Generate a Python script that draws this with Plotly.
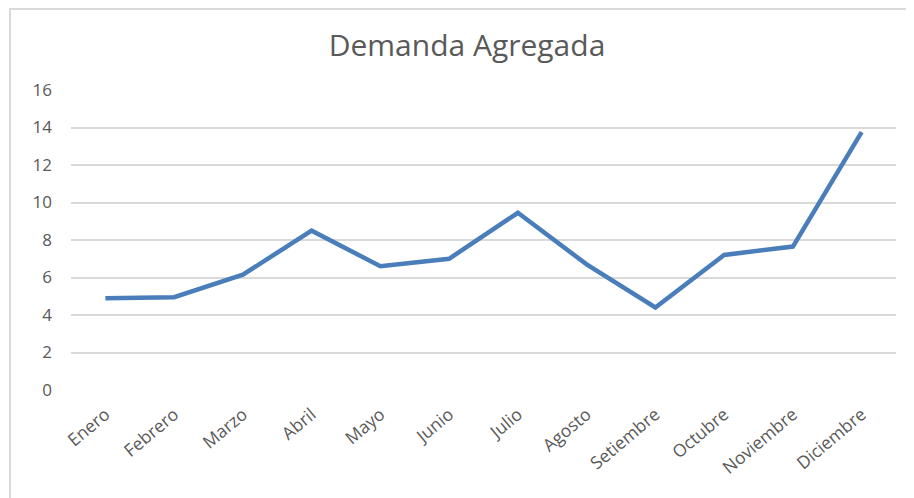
import plotly.graph_objects as go

meses = ["Enero", "Febrero", "Marzo", "Abril", "Mayo", "Junio", "Julio",
         "Agosto", "Setiembre", "Octubre", "Noviembre", "Diciembre"]
demanda = [4.9, 4.95, 6.15, 8.5, 6.6, 7.0, 9.45, 6.7, 4.4, 7.2, 7.65, 13.75]
y_ticks = [0, 2, 4, 6, 8, 10, 12, 14, 16]

W, H = 914, 498
OFF = 8  # page body offset
L, R, T, B = 71 - OFF, 18 + OFF, 90 - OFF, 108 + OFF

fig = go.Figure()
fig.add_trace(go.Scatter(
    x=meses, y=demanda, mode="lines",
    line=dict(color="#4a7ebb", width=4.5),
    hoverinfo="x+y",
))

pw = W - L - R
ph = H - T - B
bx, by = 10 - OFF, 8 - OFF + 1
fig.add_shape(type="rect", xref="paper", yref="paper",
              x0=(bx - L) / pw, x1=(W + 40 - L) / pw,
              y0=-(H + 40 - T - ph) / ph, y1=(H - by - B) / ph,
              line=dict(color="#d9d9d9", width=2), fillcolor="rgba(0,0,0,0)", layer="below")

fig.update_layout(
    width=W, height=H,
    margin=dict(l=L, r=R, t=T, b=B, pad=0),
    paper_bgcolor="white", plot_bgcolor="white",
    showlegend=False,
    font=dict(family="'Open Sans', sans-serif", color="#595959"),
    title=dict(text="Demanda Agregada", x=(467 - OFF) / W, xanchor="center",
               y=1 - (45 - OFF) / H, yref="container", yanchor="middle",
               font=dict(size=30, color="#595959", family="'Open Sans', sans-serif")),
    xaxis=dict(showgrid=False, showline=False, zeroline=False, ticks="",
               tickangle=-40, tickfont=dict(size=17.5, color="#595959"),
               range=[-0.5, 11.5], ticklabelstandoff=10),
    yaxis=dict(range=[0, 16], tickvals=y_ticks, showgrid=True,
               gridcolor="#d9d9d9", gridwidth=1.5, zeroline=False,
               showline=False, ticks="", ticklen=0,
               tickfont=dict(size=17, color="#595959"), ticklabelstandoff=18),
)
fig.write_html("out.html")
